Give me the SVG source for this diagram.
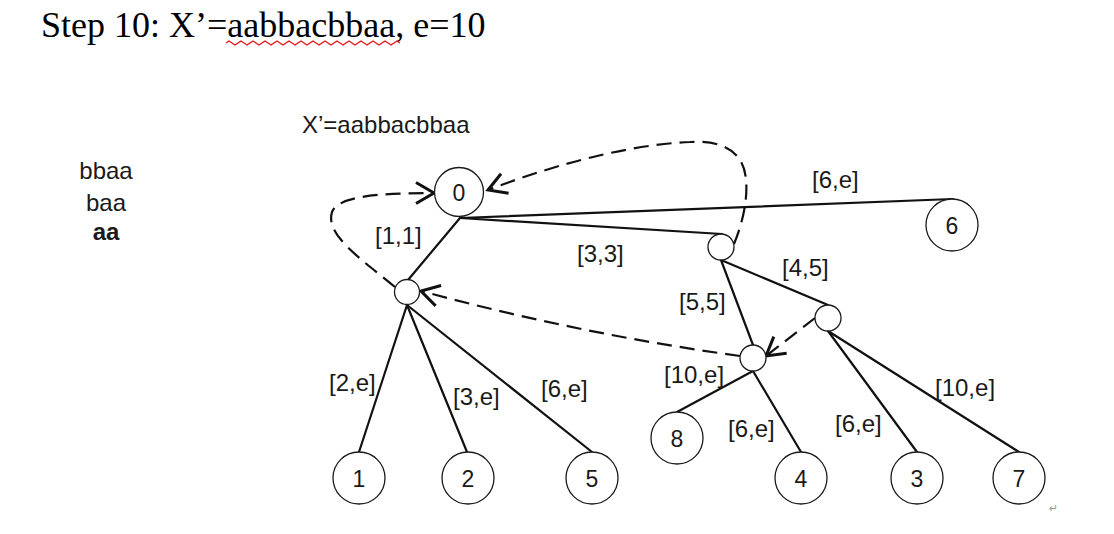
<svg xmlns="http://www.w3.org/2000/svg" width="1114" height="534" viewBox="0 0 1114 534">
  <style>
    .bg { fill: #ffffff; }
    .title { font-family: "Liberation Serif", "Times New Roman", serif; font-size: 36px; fill: #000; }
    .txt { font-family: "Liberation Sans", Arial, sans-serif; font-size: 24px; fill: #1a1a1a; }
    .lbl { font-family: "Liberation Sans", Arial, sans-serif; font-size: 24px; fill: #1a1a1a; }
    .num { font-family: "Liberation Sans", Arial, sans-serif; font-size: 23px; fill: #1a1a1a; text-anchor: middle; dominant-baseline: central; }
    .node { fill: #ffffff; stroke: #1a1a1a; stroke-width: 1.3; }
    .edge { stroke: #111; stroke-width: 2.2; fill: none; stroke-linecap: round; }
    .link { stroke: #111; stroke-width: 2.2; fill: none; stroke-dasharray: 15 8; marker-end: url(#open); }
    .wavy { stroke: #e8161b; stroke-width: 1.4; fill: none; }
  </style>
  <defs>
    <marker id="open" markerUnits="userSpaceOnUse" markerWidth="30" markerHeight="30" viewBox="-15 -10 20 20" refX="0" refY="0" orient="auto">
      <path d="M -12,-7 L 0,0 L -12,7" fill="none" stroke="#111" stroke-width="2"/>
    </marker>
  </defs>
  <rect class="bg" x="0" y="0" width="1114" height="534"/>

  <!-- heading -->
  <g id="heading">
    <text class="title" x="41" y="37">Step 10: X’=aabbacbbaa, e=10</text>
    <path class="wavy" d="M226,43 l3,-2 l3,2 l3,2 l3,-2 l3,-2 l3,2 l3,2 l3,-2 l3,-2 l3,2 l3,2 l3,-2 l3,-2 l3,2 l3,2 l3,-2 l3,-2 l3,2 l3,2 l3,-2 l3,-2 l3,2 l3,2 l3,-2 l3,-2 l3,2 l3,2 l3,-2 l3,-2 l3,2 l3,2 l3,-2 l3,-2 l3,2 l3,2 l3,-2 l3,-2 l3,2 l3,2 l3,-2 l3,-2 l3,2 l3,2 l3,-2 l3,-2 l3,2 l3,2 l3,-2 l3,-2 l3,2 l3,2 l3,-2 l3,-2 l3,2 l3,2 l3,-2 l3,-2 l3,2"/>
  </g>

  <!-- suffixes column -->
  <g id="suffixes" text-anchor="middle">
    <text class="txt" x="106" y="179">bbaa</text>
    <text class="txt" x="106" y="211">baa</text>
    <text class="txt" x="106" y="240" font-weight="bold">aa</text>
  </g>

  <text id="string-label" class="txt" x="302" y="133">X’=aabbacbbaa</text>

  <!-- tree edges and suffix links -->
  <g id="connectors">
    <line class="edge" x1="460" y1="218" x2="953" y2="199"/>
    <line class="edge" x1="460" y1="218" x2="722" y2="234"/>
    <line class="edge" x1="460" y1="218" x2="408" y2="280"/>
    <line class="edge" x1="407" y1="305" x2="359" y2="452"/>
    <line class="edge" x1="407" y1="305" x2="467" y2="452"/>
    <line class="edge" x1="407" y1="305" x2="592" y2="452"/>
    <line class="edge" x1="721" y1="260" x2="828" y2="305"/>
    <line class="edge" x1="721" y1="260" x2="753" y2="345"/>
    <line class="edge" x1="753" y1="371" x2="677" y2="412"/>
    <line class="edge" x1="753" y1="371" x2="801" y2="452"/>
    <line class="edge" x1="828" y1="331" x2="917" y2="452"/>
    <line class="edge" x1="828" y1="331" x2="1019" y2="452"/>

    <path class="link" d="M395,287 C360,258 325,235 332,212 C338,196 380,193 434,193"/>
    <path class="link" d="M734,244 C742,225 748,200 746,180 C744,150 720,140 690,142 C620,145 540,170 488,190"/>
    <path class="link" d="M740,356 Q580,334 421,291"/>
    <path class="link" d="M815,318 L766,356"/>
  </g>

  <!-- edge labels -->
  <g id="edge-labels">
    <text class="lbl" x="375" y="244">[1,1]</text>
    <text class="lbl" x="577" y="262">[3,3]</text>
    <text class="lbl" x="812" y="188">[6,e]</text>
    <text class="lbl" x="782" y="276">[4,5]</text>
    <text class="lbl" x="679" y="310">[5,5]</text>
    <text class="lbl" x="664" y="383">[10,e]</text>
    <text class="lbl" x="728" y="437">[6,e]</text>
    <text class="lbl" x="835" y="432">[6,e]</text>
    <text class="lbl" x="935" y="396">[10,e]</text>
    <text class="lbl" x="329" y="391">[2,e]</text>
    <text class="lbl" x="453" y="405">[3,e]</text>
    <text class="lbl" x="541" y="397">[6,e]</text>
  </g>

  <!-- root -->
  <g id="node-0">
    <circle class="node" cx="459" cy="192" r="24.5"/>
    <text class="num" x="459" y="193">0</text>
  </g>

  <!-- internal nodes -->
  <g id="node-a"><circle class="node" cx="407" cy="292" r="12.5"/></g>
  <g id="node-b"><circle class="node" cx="721" cy="247" r="13"/></g>
  <g id="node-c"><circle class="node" cx="828" cy="318" r="13"/></g>
  <g id="node-d"><circle class="node" cx="753" cy="358" r="13"/></g>

  <!-- leaves -->
  <g id="leaf-6"><circle class="node" cx="952" cy="225" r="26"/><text class="num" x="952" y="226">6</text></g>
  <g id="leaf-1"><circle class="node" cx="359" cy="478" r="26"/><text class="num" x="359" y="479">1</text></g>
  <g id="leaf-2"><circle class="node" cx="468" cy="478" r="26"/><text class="num" x="468" y="479">2</text></g>
  <g id="leaf-5"><circle class="node" cx="592" cy="478" r="26"/><text class="num" x="592" y="479">5</text></g>
  <g id="leaf-8"><circle class="node" cx="677" cy="438" r="26"/><text class="num" x="677" y="439">8</text></g>
  <g id="leaf-4"><circle class="node" cx="801" cy="478" r="26"/><text class="num" x="801" y="479">4</text></g>
  <g id="leaf-3"><circle class="node" cx="917" cy="478" r="26"/><text class="num" x="917" y="479">3</text></g>
  <g id="leaf-7"><circle class="node" cx="1019" cy="478" r="26"/><text class="num" x="1019" y="479">7</text></g>

  <text id="return-mark" x="1049" y="512" font-family="DejaVu Sans, sans-serif" font-size="11" fill="#9a9a9a">↵</text>
</svg>
